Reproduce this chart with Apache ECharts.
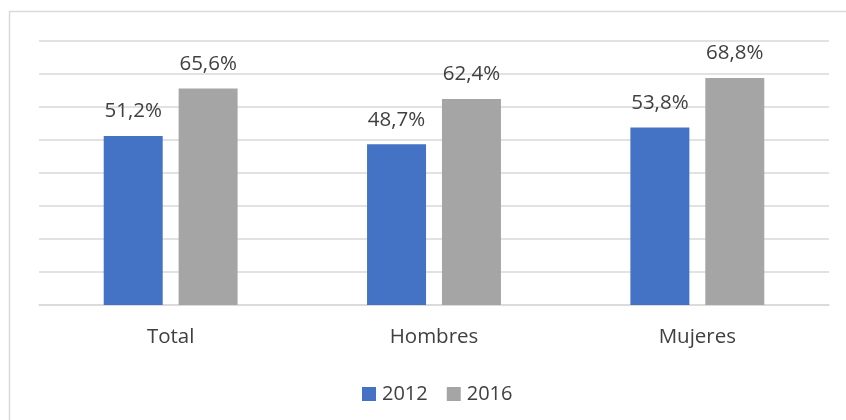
<!DOCTYPE html>
<html>
<head>
<meta charset="utf-8">
<script src="https://cdn.jsdelivr.net/npm/echarts@6/dist/echarts.min.js"></script>
<style>
  html, body { margin: 0; padding: 0; background: #fff; }
  #chart { width: 846px; height: 420px; }
</style>
</head>
<body>
<div id="chart"></div>
<script>
// Población por sexo, 2012 vs 2016 (%)
const categories = ['Total', 'Hombres', 'Mujeres'];
const years = ['2012', '2016'];
const values2012 = [51.2, 48.7, 53.8];
const values2016 = [65.6, 62.4, 68.8];

const FONT = 'Open Sans';
const TEXT = '#404040';

const chart = echarts.init(document.getElementById('chart'), null, { renderer: 'canvas' });

const fmt = p => p.value.toFixed(1).replace('.', ',') + '%';

chart.setOption({
  animation: false,
  backgroundColor: '#ffffff',
  graphic: [{
    type: 'rect',
    shape: { x: 9.5, y: 11.5, width: 900, height: 500 },
    style: { fill: 'none', stroke: '#d9d9d9', lineWidth: 1.5 },
    silent: true, z: -1
  }],
  grid: { left: 39, right: 17, top: 41, bottom: 115 },
  legend: {
    data: years,
    bottom: 16,
    left: 362,
    padding: 0,
    itemWidth: 14, itemHeight: 14, itemGap: 19,
    icon: 'rect',
    textStyle: { fontFamily: FONT, fontSize: 20, color: TEXT, padding: [0, 0, 0, 1] }
  },
  xAxis: {
    type: 'category',
    data: categories,
    axisLine: { lineStyle: { color: '#d9d9d9', width: 1.5 } },
    axisTick: { show: false },
    axisLabel: { fontFamily: FONT, fontSize: 20.5, color: TEXT, margin: 22 }
  },
  yAxis: {
    type: 'value',
    min: 0, max: 80, interval: 10,
    axisLabel: { show: false },
    axisLine: { show: false },
    axisTick: { show: false },
    splitLine: { lineStyle: { color: '#d9d9d9', width: 1.5 } }
  },
  series: [
    {
      name: years[0], type: 'bar', data: values2012,
      barWidth: '22.4%', barGap: '27%',
      itemStyle: { color: '#4472C4' },
      label: { show: true, position: 'top', distance: 14, formatter: fmt,
               fontFamily: FONT, fontSize: 20.5, color: TEXT }
    },
    {
      name: years[1], type: 'bar', data: values2016,
      barWidth: '22.4%',
      itemStyle: { color: '#A5A5A5' },
      label: { show: true, position: 'top', distance: 14, formatter: fmt,
               fontFamily: FONT, fontSize: 20.5, color: TEXT }
    }
  ]
});
</script>
</body>
</html>
